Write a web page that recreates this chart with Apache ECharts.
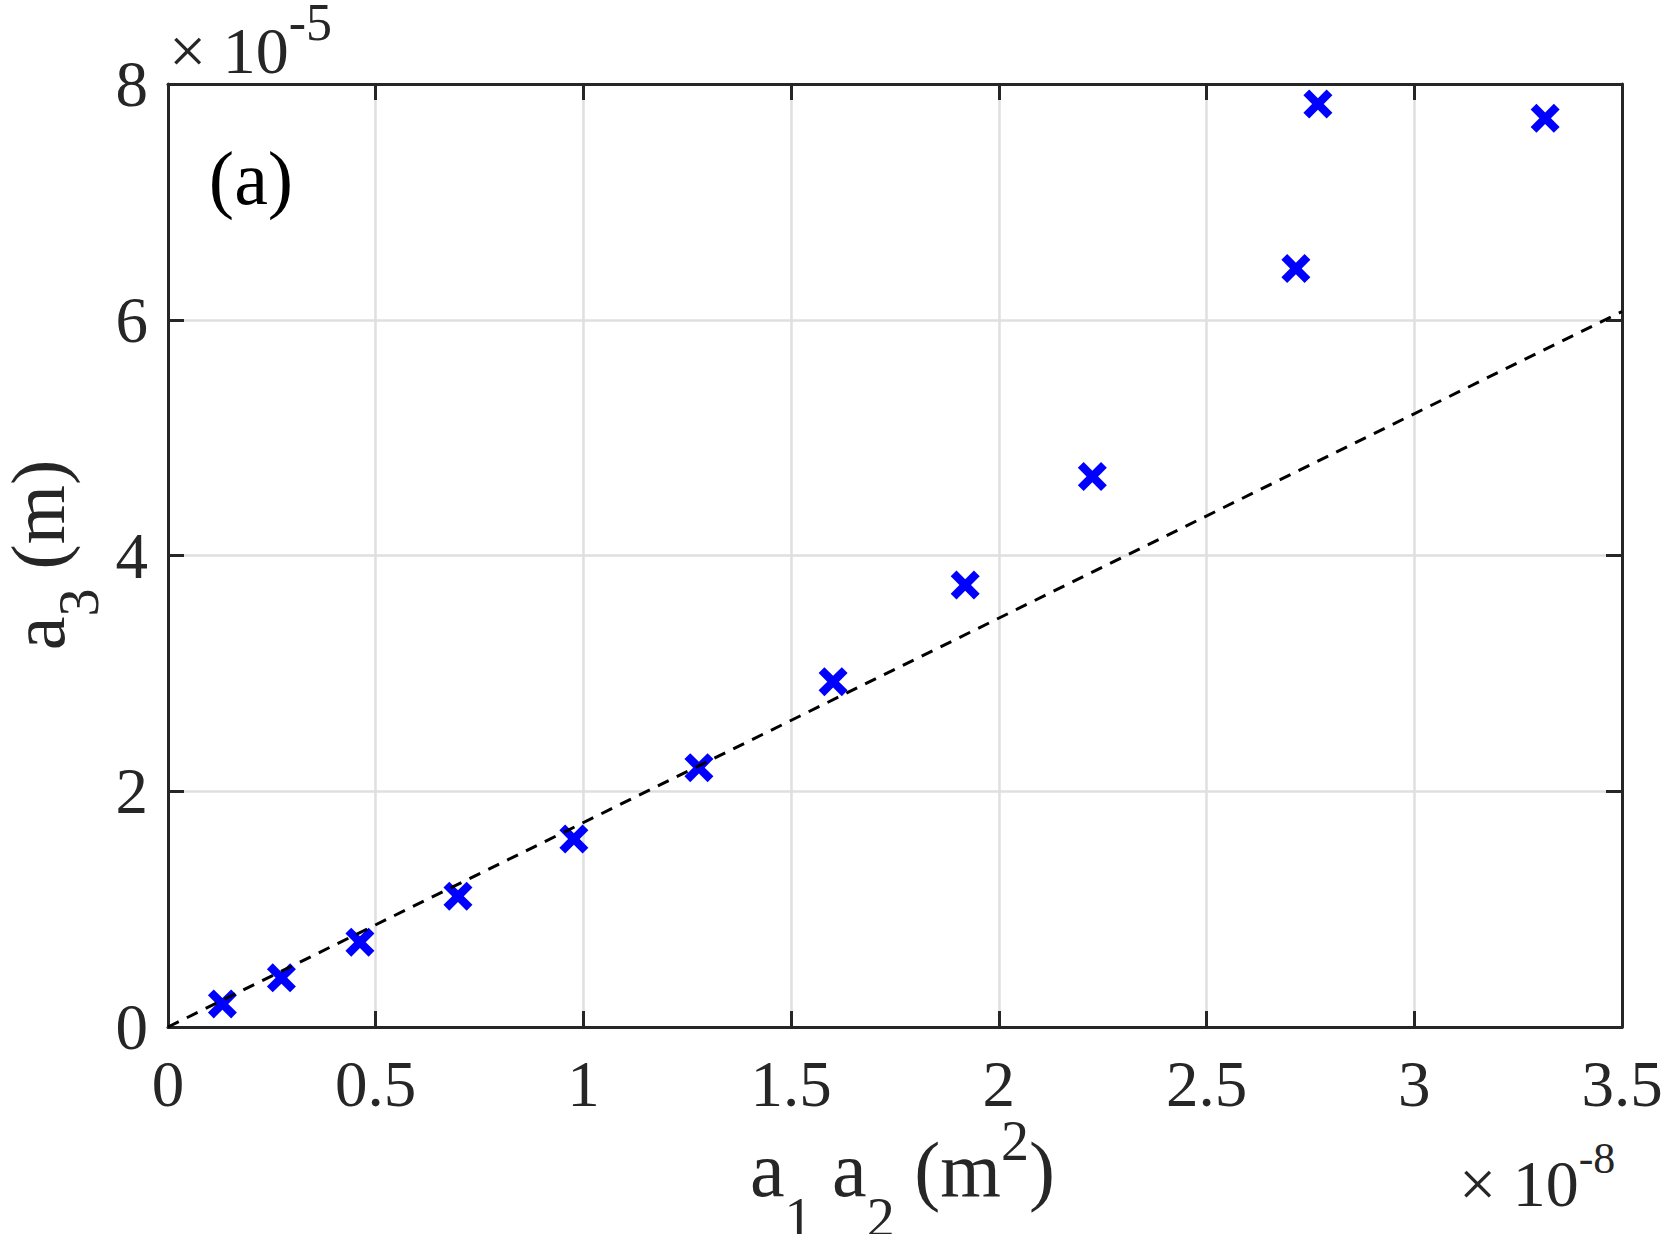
<!DOCTYPE html>
<html>
<head>
<meta charset="utf-8">
<script src="https://cdn.jsdelivr.net/npm/echarts@6.0.0/dist/echarts.min.js"></script>
<style>
  html, body { margin: 0; padding: 0; background: #fff; }
  #chart { width: 1671px; height: 1234px; }
</style>
</head>
<body>
<div id="chart"></div>
<script>
// a1*a2 in units of 1e-8 m^2, a3 in units of 1e-5 m
const a1a2 = [0.131, 0.273, 0.462, 0.698, 0.977, 1.278, 1.601, 1.919, 2.225, 2.715, 2.768, 3.315]
const a3 = [0.196, 0.417, 0.720, 1.11, 1.595, 2.20, 2.93, 3.75, 4.67, 6.435, 7.83, 7.71]

// dashed fit line end points
const fitX = [0, 3.5]
const fitY = [0, 6.07]

const xTicks = { min: 0, max: 3.5, interval: 0.5 }
const yTicks = { min: 0, max: 8, interval: 2 }

const FONT = 'Liberation Serif'
const INK = '#262626'

// thick "x" marker
const crossPath = 'path://M20,0L50,30L80,0L100,20L70,50L100,80L80,100L50,70L20,100L0,80L30,50L0,20Z'

const chart = echarts.init(document.getElementById('chart'), null, { renderer: 'svg' })

const boxAxis = (pos, ticks, withLabels) => ({
  type: 'value',
  position: pos,
  min: ticks.min,
  max: ticks.max,
  interval: ticks.interval,
  axisLine: { show: true, onZero: false, lineStyle: { color: INK, width: 3 } },
  axisTick: { show: true, inside: true, length: 16, lineStyle: { color: INK, width: 3 } },
  axisLabel: {
    show: withLabels,
    color: INK,
    fontFamily: FONT,
    fontSize: 65,
    margin: pos === 'bottom' ? 24 : 20,
    showMinLabel: true,
    showMaxLabel: true
  },
  splitLine: { show: withLabels, lineStyle: { color: '#dfdfdf', width: 2.5 } }
})

const option = {
  backgroundColor: '#fff',
  animation: false,
  grid: { left: 168, top: 84, width: 1454, height: 943, outerBoundsMode: 'none' },
  xAxis: [boxAxis('bottom', xTicks, true), boxAxis('top', xTicks, false)],
  yAxis: [boxAxis('left', yTicks, true), boxAxis('right', yTicks, false)],
  series: [
    {
      type: 'scatter',
      symbol: crossPath,
      symbolSize: 29,
      itemStyle: { color: '#0000ff', opacity: 1 },
      data: a1a2.map((x, i) => [x, a3[i]]),
      z: 3
    },
    {
      type: 'line',
      symbol: 'none',
      lineStyle: { color: '#000', width: 3, type: [12, 9] },
      data: fitX.map((x, i) => [x, fitY[i]]),
      z: 4
    }
  ],
  graphic: [
    {
      type: 'text',
      x: 251,
      y: 178,
      style: { text: '(a)', fontFamily: FONT, fontSize: 76, fill: '#000', align: 'center', verticalAlign: 'middle' }
    },
    {
      type: 'text',
      x: 169,
      y: 50,
      style: {
        text: '× 10{sup|-5}',
        fontFamily: FONT, fontSize: 66, fill: INK, align: 'left', verticalAlign: 'middle',
        rich: { sup: { fontFamily: FONT, fontSize: 52, fill: INK, padding: [0, 0, 56, 0] } }
      }
    },
    {
      type: 'text',
      x: 1459,
      y: 1183,
      style: {
        text: '× 10{sup|-8}',
        fontFamily: FONT, fontSize: 66, fill: INK, align: 'left', verticalAlign: 'middle',
        rich: { sup: { fontFamily: FONT, fontSize: 44, fill: INK, padding: [0, 0, 49, 0] } }
      }
    },
    {
      type: 'text',
      x: 750,
      y: 1169,
      style: {
        text: 'a{sub|1} a{sub|2} (m{sup|2})',
        fontFamily: FONT, fontSize: 78, fill: INK, align: 'left', verticalAlign: 'middle',
        rich: {
          sub: { fontFamily: FONT, fontSize: 56, fill: INK, padding: [98, 0, 0, 0] },
          sup: { fontFamily: FONT, fontSize: 56, fill: INK, padding: [0, 0, 56, 0] }
        }
      }
    },
    {
      type: 'text',
      x: 38,
      y: 555,
      rotation: Math.PI / 2,
      style: {
        text: 'a{sub|3} (m)',
        fontFamily: FONT, fontSize: 76, fill: INK, align: 'center', verticalAlign: 'middle',
        rich: { sub: { fontFamily: FONT, fontSize: 56, fill: INK, padding: [82, 0, 0, 0] } }
      }
    }
  ]
}

chart.setOption(option)
window.addEventListener('resize', () => chart.resize())
</script>
</body>
</html>
